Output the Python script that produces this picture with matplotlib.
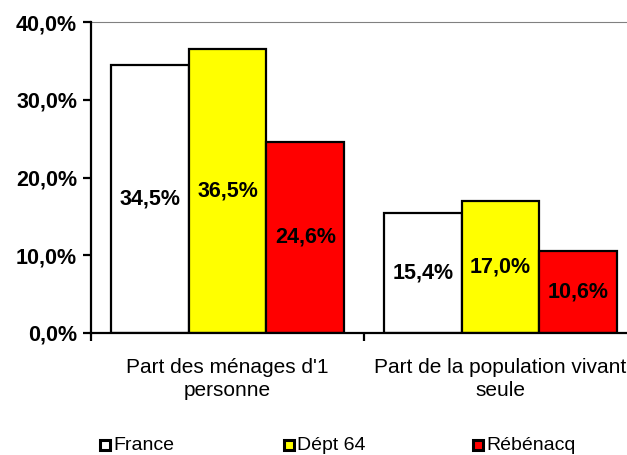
import numpy as np
import matplotlib.pyplot as plt
from matplotlib.patches import Rectangle
from matplotlib.ticker import FuncFormatter

#%% Datos
categories = ["Part des ménages d'1\npersonne", "Part de la population vivant\nseule"]
series = ["France", "Dépt 64", "Rébénacq"]
france = [34.5, 15.4]
dept64 = [36.5, 17.0]
rebenacq = [24.6, 10.6]
colors = ["white", "#FFFF00", "#FF0000"]

valores = [france, dept64, rebenacq]

#%% Grafico
plt.rcParams["font.family"] = ["Liberation Sans", "DejaVu Sans"]

fig = plt.figure(figsize=(6.27, 4.55), dpi=100)
ax = fig.add_axes([91 / 627, 122 / 455, 546 / 627, 311 / 455])

x = np.arange(len(categories))
ancho = 0.285
for i, (vals, col) in enumerate(zip(valores, colors)):
    pos = x + (i - 1) * ancho
    ax.bar(pos, vals, width=ancho, color=col, edgecolor="black", linewidth=1.6, zorder=3)
    for p, v in zip(pos, vals):
        ax.text(p, v / 2, "{:.1f}%".format(v).replace(".", ","), ha="center", va="center",
                fontsize=15.5, fontweight="bold", zorder=4)

ax.set_xlim(-0.5, 1.5)
ax.set_ylim(0, 40)
ax.set_yticks([0, 10, 20, 30, 40])
ax.yaxis.set_major_formatter(FuncFormatter(lambda v, _: "{:.1f}%".format(v).replace(".", ",")))
for lab in ax.get_yticklabels():
    lab.set_fontweight("bold")
ax.tick_params(axis="y", labelsize=15.5, length=6, width=1.6, direction="out", pad=4)

# Ticks de categoria entre grupos, etiquetas centradas
ax.set_xticks([-0.5, 0.5, 1.5])
ax.set_xticklabels([])
ax.set_xticks(x, minor=True)
ax.set_xticklabels(categories, minor=True, fontsize=15, linespacing=1.28)
ax.tick_params(axis="x", which="major", length=6, width=1.6, direction="out")
ax.tick_params(axis="x", which="minor", length=0, pad=18)

ax.spines["left"].set_linewidth(1.6)
ax.spines["bottom"].set_linewidth(1.6)
ax.spines["top"].set_color("#808080")
ax.spines["right"].set_color("#808080")
ax.spines["left"].set_zorder(5)
ax.spines["bottom"].set_zorder(5)

# Leyenda
leyenda_x = [100, 284, 473]
for lx, nombre, col in zip(leyenda_x, series, colors):
    fig.patches.append(Rectangle((lx / 627, (455 - 450) / 455), 10 / 627, 10 / 455,
                                 transform=fig.transFigure, facecolor=col,
                                 edgecolor="black", linewidth=2.2))
    fig.text((lx + 13) / 627, (455 - 445) / 455, nombre, fontsize=14, va="center", ha="left")

fig.savefig("out.png", dpi=100)
